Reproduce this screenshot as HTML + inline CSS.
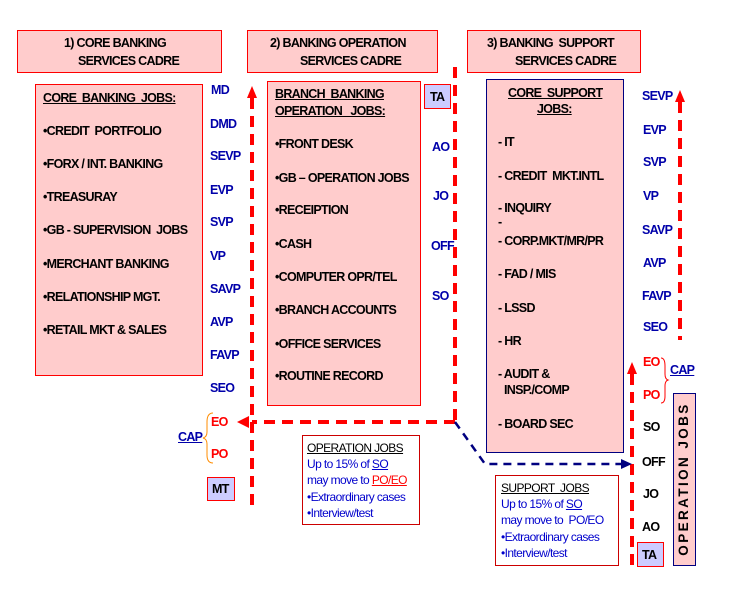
<!DOCTYPE html>
<html><head><meta charset="utf-8"><style>
html,body{margin:0;padding:0;background:#fff;}
#c{position:relative;width:745px;height:610px;overflow:hidden;font-family:"Liberation Sans Narrow","Liberation Sans",sans-serif;}
.t{position:absolute;font-weight:bold;font-size:12.5px;line-height:16px;letter-spacing:-0.7px;white-space:nowrap;color:#000;}
.b{color:#0000aa;}
.r{color:#ff0000;}
.box{position:absolute;background:#ffcccc;box-sizing:border-box;}
.rb{border:1.5px solid #ff0000;}
.bb{border:1.5px solid #000080;}
.u{text-decoration:underline;}
.n{position:absolute;font-size:12px;line-height:16.5px;letter-spacing:-0.6px;white-space:nowrap;color:#0000cc;}
</style></head><body><div id="c">

<svg style="position:absolute;left:0;top:0" width="745" height="610">
<g stroke="#ff0000" stroke-width="4" stroke-dasharray="11,7" fill="none">
<line x1="252" y1="98" x2="252" y2="505"/>
<line x1="455" y1="67" x2="455" y2="422"/>
<line x1="455" y1="422" x2="252" y2="422"/>
<line x1="680" y1="102" x2="680" y2="340"/>
<line x1="632" y1="374" x2="632" y2="568"/>
</g>
<polygon points="252,86 247,98 257,98" fill="#ff0000"/>
<polygon points="680,90 675,102 685,102" fill="#ff0000"/>
<polygon points="632,362 627,374 637,374" fill="#ff0000"/>
<polygon points="237,422 249,416 249,428" fill="#ff0000"/>
<g stroke="#000080" stroke-width="2.5" stroke-dasharray="8,6" fill="none">
<polyline points="455,422 485,464 622,464"/>
</g>
<polygon points="632,464 621,459 621,469" fill="#000080"/>
<path d="M213,413 Q207,413 207,422 L207,432 Q207,437 203,438 Q207,439 207,444 L207,455 Q207,463 213,463" stroke="#ff8c00" stroke-width="1" fill="none"/>
<path d="M661,358 Q665,358 665,366 L665,374 Q665,379 668,380 Q665,381 665,386 L665,396 Q665,403 661,403" stroke="#ff0000" stroke-width="1" fill="none"/>
</svg>

<!-- headers -->
<div class="box rb" style="left:17px;top:30px;width:205px;height:43px;"></div>
<div class="t" style="left:64px;top:35px;">1) CORE BANKING</div>
<div class="t" style="left:78px;top:53px;">SERVICES CADRE</div>
<div class="box rb" style="left:247px;top:30px;width:191px;height:43px;"></div>
<div class="t" style="left:270px;top:35px;">2) BANKING OPERATION</div>
<div class="t" style="left:300px;top:53px;">SERVICES CADRE</div>
<div class="box rb" style="left:467px;top:30px;width:174px;height:43px;"></div>
<div class="t" style="left:487px;top:35px;">3) BANKING&nbsp; SUPPORT</div>
<div class="t" style="left:515px;top:53px;">SERVICES CADRE</div>

<!-- box 1 -->
<div class="box rb" style="left:35px;top:84px;width:168px;height:292px;"></div>
<div class="t u" style="left:43px;top:90px;">CORE&nbsp; BANKING&nbsp; JOBS:</div>
<div class="t" style="left:43px;top:123px;">•CREDIT&nbsp; PORTFOLIO</div>
<div class="t" style="left:43px;top:156px;">•FORX / INT. BANKING</div>
<div class="t" style="left:43px;top:189px;">•TREASURAY</div>
<div class="t" style="left:43px;top:222px;">•GB - SUPERVISION&nbsp; JOBS</div>
<div class="t" style="left:43px;top:256px;">•MERCHANT BANKING</div>
<div class="t" style="left:43px;top:289px;">•RELATIONSHIP MGT.</div>
<div class="t" style="left:43px;top:322px;">•RETAIL MKT &amp; SALES</div>

<!-- levels 1 -->
<div class="t b" style="left:211px;top:82px;">MD</div>
<div class="t b" style="left:210px;top:116px;">DMD</div>
<div class="t b" style="left:210px;top:148px;">SEVP</div>
<div class="t b" style="left:210px;top:182px;">EVP</div>
<div class="t b" style="left:210px;top:214px;">SVP</div>
<div class="t b" style="left:210px;top:248px;">VP</div>
<div class="t b" style="left:210px;top:281px;">SAVP</div>
<div class="t b" style="left:210px;top:314px;">AVP</div>
<div class="t b" style="left:210px;top:347px;">FAVP</div>
<div class="t b" style="left:210px;top:380px;">SEO</div>
<div class="t r" style="left:211px;top:414px;">EO</div>
<div class="t r" style="left:211px;top:446px;">PO</div>
<div class="t b u" style="left:178px;top:429px;">CAP</div>
<div class="box rb" style="left:207px;top:477px;width:28px;height:24px;background:#ccccff;"></div>
<div class="t" style="left:212px;top:481px;">MT</div>

<!-- box 2 -->
<div class="box rb" style="left:267px;top:81px;width:154px;height:325px;"></div>
<div class="t u" style="left:275px;top:86px;">BRANCH&nbsp; BANKING</div>
<div class="t u" style="left:275px;top:103px;">OPERATION&nbsp;&nbsp; JOBS:</div>
<div class="t" style="left:275px;top:136px;">•FRONT DESK</div>
<div class="t" style="left:275px;top:170px;">•GB – OPERATION JOBS</div>
<div class="t" style="left:275px;top:202px;">•RECEIPTION</div>
<div class="t" style="left:275px;top:236px;">•CASH</div>
<div class="t" style="left:275px;top:269px;">•COMPUTER OPR/TEL</div>
<div class="t" style="left:275px;top:302px;">•BRANCH ACCOUNTS</div>
<div class="t" style="left:275px;top:336px;">•OFFICE SERVICES</div>
<div class="t" style="left:275px;top:368px;">•ROUTINE RECORD</div>
<div class="box rb" style="left:424px;top:84px;width:27px;height:25px;background:#ccccff;"></div>
<div class="t" style="left:430px;top:89px;">TA</div>
<div class="t b" style="left:432px;top:139px;">AO</div>
<div class="t b" style="left:433px;top:188px;">JO</div>
<div class="t b" style="left:431px;top:238px;">OFF</div>
<div class="t b" style="left:432px;top:288px;">SO</div>

<!-- op jobs note -->
<div style="position:absolute;left:302px;top:435px;width:118px;height:90px;border:1.5px solid #cc0000;box-sizing:border-box;background:#fff;"></div>
<div class="n u" style="left:307px;top:440px;color:#000;">OPERATION JOBS</div>
<div class="n" style="left:307px;top:456px;">Up to 15% of <span class="u">SO</span></div>
<div class="n" style="left:307px;top:472px;">may move to <span class="u" style="color:#ff0000">PO/EO</span></div>
<div class="n" style="left:307px;top:489px;">•Extraordinary cases</div>
<div class="n" style="left:307px;top:505px;">•Interview/test</div>

<!-- box 3 -->
<div class="box bb" style="left:486px;top:79px;width:138px;height:374px;"></div>
<div class="t u" style="left:508px;top:85px;">CORE&nbsp; SUPPORT</div>
<div class="t u" style="left:537px;top:101px;">JOBS:</div>
<div class="t" style="left:498px;top:134px;">- IT</div>
<div class="t" style="left:498px;top:168px;">- CREDIT&nbsp; MKT.INTL</div>
<div class="t" style="left:498px;top:200px;">- INQUIRY</div>
<div class="t" style="left:498px;top:214px;">-</div>
<div class="t" style="left:498px;top:233px;">- CORP.MKT/MR/PR</div>
<div class="t" style="left:498px;top:266px;">- FAD / MIS</div>
<div class="t" style="left:498px;top:300px;">- LSSD</div>
<div class="t" style="left:498px;top:333px;">- HR</div>
<div class="t" style="left:498px;top:366px;">- AUDIT &amp;</div>
<div class="t" style="left:504px;top:382px;">INSP./COMP</div>
<div class="t" style="left:498px;top:416px;">- BOARD SEC</div>

<!-- levels 3 -->
<div class="t b" style="left:642px;top:88px;">SEVP</div>
<div class="t b" style="left:643px;top:122px;">EVP</div>
<div class="t b" style="left:643px;top:154px;">SVP</div>
<div class="t b" style="left:643px;top:188px;">VP</div>
<div class="t b" style="left:642px;top:222px;">SAVP</div>
<div class="t b" style="left:643px;top:255px;">AVP</div>
<div class="t b" style="left:642px;top:288px;">FAVP</div>
<div class="t b" style="left:643px;top:319px;">SEO</div>
<div class="t r" style="left:643px;top:354px;">EO</div>
<div class="t r" style="left:643px;top:387px;">PO</div>
<div class="t b u" style="left:670px;top:362px;">CAP</div>
<div class="t" style="left:643px;top:419px;">SO</div>
<div class="t" style="left:642px;top:454px;">OFF</div>
<div class="t" style="left:643px;top:486px;">JO</div>
<div class="t" style="left:642px;top:519px;">AO</div>
<div class="box rb" style="left:637px;top:542px;width:27px;height:25px;background:#ccccff;"></div>
<div class="t" style="left:642px;top:547px;">TA</div>

<div class="box bb" style="left:673px;top:393px;width:23px;height:173px;"></div>
<div class="t" style="left:684px;top:479px;transform:translate(-50%,-50%) rotate(-90deg);font-size:13.5px;letter-spacing:2.4px;">OPERATION JOBS</div>

<!-- support note -->
<div style="position:absolute;left:495px;top:475px;width:124px;height:91px;border:1.5px solid #cc0000;box-sizing:border-box;background:#fff;"></div>
<div class="n u" style="left:501px;top:480px;color:#000;">SUPPORT&nbsp; JOBS</div>
<div class="n" style="left:501px;top:496px;">Up to 15% of <span class="u">SO</span></div>
<div class="n" style="left:501px;top:512px;">may move to&nbsp; PO/EO</div>
<div class="n" style="left:501px;top:529px;">•Extraordinary cases</div>
<div class="n" style="left:501px;top:545px;">•Interview/test</div>

</div></body></html>
